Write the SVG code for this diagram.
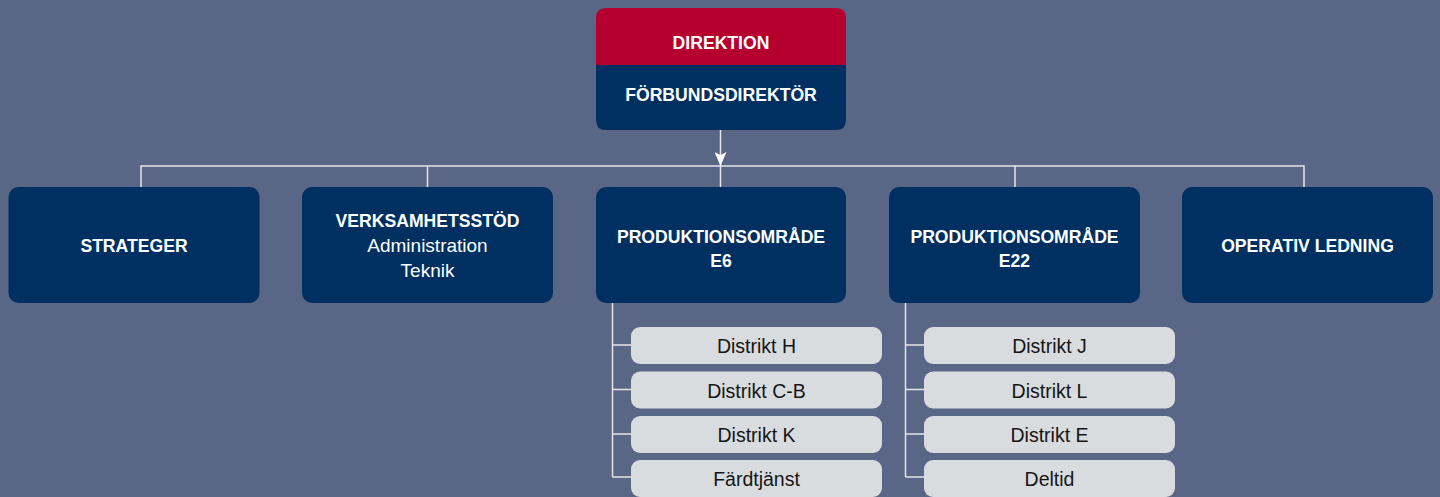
<svg xmlns="http://www.w3.org/2000/svg" width="1440" height="497" viewBox="0 0 1440 497">
<defs>
<style>
.bg{fill:#5a6686}
.nav{fill:#002f62}
.red{fill:#b5002f}
.item{fill:#d9dcdf}
.ln{stroke:#e6e6e6;stroke-width:1.5;fill:none}
.h{font-family:"Liberation Sans",Arial,sans-serif;font-weight:bold;font-size:17.6px;fill:#ffffff;text-anchor:middle}
.r{font-family:"Liberation Sans",Arial,sans-serif;font-size:19px;fill:#ffffff;text-anchor:middle}
.t{font-family:"Liberation Sans",Arial,sans-serif;font-size:19.5px;fill:#151515;text-anchor:middle}
</style>
<marker id="arr" viewBox="0 0 14 12" refX="14" refY="6" markerWidth="14" markerHeight="12" markerUnits="userSpaceOnUse" orient="auto">
<path d="M0,0 L14,6 L0,12 L3,6 Z" fill="#ffffff"/>
</marker>
</defs>
<rect class="bg" x="0" y="0" width="1440" height="497"/>
<g id="connectors">
<path class="ln" d="M141,187 V166 H1304 V187"/>
<path class="ln" d="M427.5,166 V187 M1015,166 V187 M720.5,166 V187"/>
<path class="ln" d="M720.5,130 V166" marker-end="url(#arr)"/>
<path class="ln" d="M612.5,303 V477 M612.5,345 H631 M612.5,389.5 H631 M612.5,434 H631 M612.5,477 H631"/>
<path class="ln" d="M905.5,303 V477 M905.5,345 H924 M905.5,389.5 H924 M905.5,434 H924 M905.5,477 H924"/>
</g>
<g id="direktion">
<path class="red" d="M596,75 V18 Q596,8 606,8 H836 Q846,8 846,18 V75 Z"/>
<path class="nav" d="M596,65 H846 V120 Q846,130 836,130 H606 Q596,130 596,120 Z"/>
<text class="h" x="721" y="49">DIREKTION</text>
<text class="h" x="721" y="101">FÖRBUNDSDIREKTÖR</text>
</g>
<g id="strateger">
<rect class="nav" x="8.5" y="187" width="251" height="116" rx="10"/>
<text class="h" x="134" y="252">STRATEGER</text>
</g>
<g id="verksamhetsstod">
<rect class="nav" x="302" y="187" width="251" height="116" rx="10"/>
<text class="h" x="427.5" y="227">VERKSAMHETSSTÖD</text>
<text class="r" x="427.5" y="252">Administration</text>
<text class="r" x="427.5" y="277">Teknik</text>
</g>
<g id="po-e6">
<rect class="nav" x="596" y="187" width="250" height="116" rx="10"/>
<text class="h" x="721" y="243">PRODUKTIONSOMRÅDE</text>
<text class="h" x="721" y="267">E6</text>
</g>
<g id="po-e22">
<rect class="nav" x="889" y="187" width="251" height="116" rx="10"/>
<text class="h" x="1014.5" y="243">PRODUKTIONSOMRÅDE</text>
<text class="h" x="1014.5" y="267">E22</text>
</g>
<g id="operativ">
<rect class="nav" x="1182" y="187" width="251" height="116" rx="10"/>
<text class="h" x="1307.5" y="252">OPERATIV LEDNING</text>
</g>
<g id="distrikt-h">
<rect class="item" x="631" y="327" width="251" height="37" rx="9"/>
<text class="t" x="756.5" y="353">Distrikt H</text>
</g>
<g id="distrikt-cb">
<rect class="item" x="631" y="371.5" width="251" height="37" rx="9"/>
<text class="t" x="756.5" y="397.5">Distrikt C-B</text>
</g>
<g id="distrikt-k">
<rect class="item" x="631" y="416" width="251" height="37" rx="9"/>
<text class="t" x="756.5" y="442">Distrikt K</text>
</g>
<g id="fardtjanst">
<rect class="item" x="631" y="460" width="251" height="37" rx="9"/>
<text class="t" x="756.5" y="486">Färdtjänst</text>
</g>
<g id="distrikt-j">
<rect class="item" x="924" y="327" width="251" height="37" rx="9"/>
<text class="t" x="1049.5" y="353">Distrikt J</text>
</g>
<g id="distrikt-l">
<rect class="item" x="924" y="371.5" width="251" height="37" rx="9"/>
<text class="t" x="1049.5" y="397.5">Distrikt L</text>
</g>
<g id="distrikt-e">
<rect class="item" x="924" y="416" width="251" height="37" rx="9"/>
<text class="t" x="1049.5" y="442">Distrikt E</text>
</g>
<g id="deltid">
<rect class="item" x="924" y="460" width="251" height="37" rx="9"/>
<text class="t" x="1049.5" y="486">Deltid</text>
</g>
</svg>
